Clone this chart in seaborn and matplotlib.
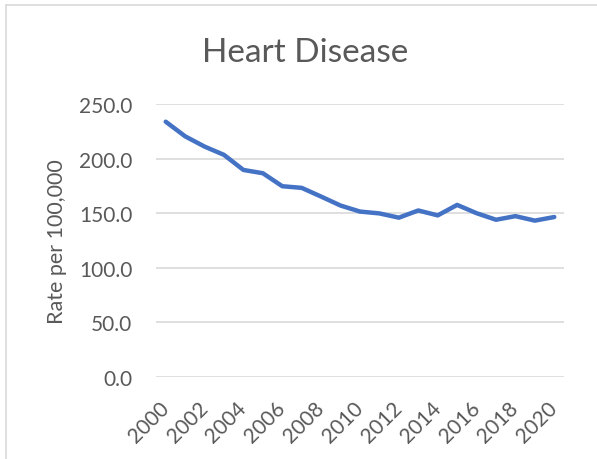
import matplotlib
matplotlib.use("Agg")
import matplotlib.pyplot as plt
from matplotlib.lines import Line2D
import seaborn as sns
import pandas as pd

years = list(range(2000, 2021))
rates = [233.8, 220.4, 211.0, 203.4, 189.6, 186.6, 174.7, 173.2, 165.2, 157.0,
         151.5, 149.8, 145.9, 152.5, 148.0, 157.6, 150.0, 144.0, 147.3, 143.2, 146.5]
tick_years = list(range(2000, 2021, 2))
yticks = [0, 50, 100, 150, 200, 250]

sns.set_theme(style="white")
plt.rcParams['font.family'] = ['Lato', 'DejaVu Sans']
text_color = "#595959"

df = pd.DataFrame({"Year": years, "Rate": rates})

fig = plt.figure(figsize=(5.97, 4.60), dpi=100)
ax = fig.add_axes([156/597, 1-378/460, (564-156)/597, (378-105)/460])

sns.lineplot(data=df, x="Year", y="Rate", ax=ax, color="#4472C4", linewidth=3.2,
             solid_capstyle="round", solid_joinstyle="round", zorder=3)

ax.set_xlim(1999.5, 2020.5)
ax.set_ylim(0, 250)
ax.set_yticks(yticks)
ax.set_yticklabels([f"{v:.1f}" for v in yticks])
ax.set_xticks(tick_years)
ax.set_xticklabels([str(y) for y in tick_years], rotation=45, ha="right",
                   va="center", rotation_mode="anchor")
ax.tick_params(axis="both", length=0, labelsize=15, labelcolor=text_color)
ax.tick_params(axis="y", pad=17)
ax.tick_params(axis="x", pad=20)
ax.yaxis.grid(True, color="#d9d9d9", linewidth=1.2)
ax.xaxis.grid(False)
for s in ax.spines.values():
    s.set_visible(False)
ax.set_xlabel("")
ax.set_ylabel("Rate per 100,000", fontsize=15.5, color=text_color)
ax.yaxis.set_label_coords(-0.218, 0.5)

fig.text(305/597, 1-62/460, "Heart Disease", fontsize=24, color=text_color,
         ha="center", va="baseline")

fig.add_artist(Line2D([6/597, 6/597], [0, 1-6/460], color="#d9d9d9", linewidth=1.2))
fig.add_artist(Line2D([6/597, 1], [1-6/460, 1-6/460], color="#d9d9d9", linewidth=1.2))

fig.savefig("out.png", dpi=100)
